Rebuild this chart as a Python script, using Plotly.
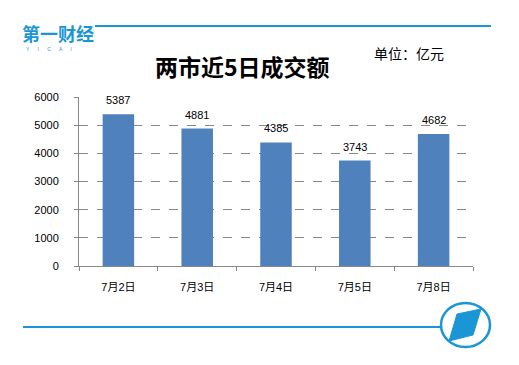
import plotly.graph_objects as go

categories = ["7月2日", "7月3日", "7月4日", "7月5日", "7月8日"]
values = [5387, 4881, 4385, 3743, 4682]
y_ticks = [0, 1000, 2000, 3000, 4000, 5000, 6000]

W, H = 519, 365
L, R, T, B = 79, 473, 97, 266

def px(x):
    return (x - L) / (R - L)

def py(y):
    return (B - y) / (B - T)

BLUE = "#1A96D6"
CJK = "Noto Sans CJK SC"

fig = go.Figure(go.Bar(
    x=categories, y=values,
    marker=dict(color="#4F81BD", line=dict(width=0)),
    cliponaxis=False, hoverinfo="x+y",
))

ann = []
for c, v in zip(categories, values):
    ann.append(dict(x=c, y=v, xref="x", yref="y", text=str(v), showarrow=False,
                    yanchor="middle", yshift=14,
                    font=dict(size=11, color="#000", family="Liberation Sans")))

ann += [
    dict(text="<b>第一财经</b>", xref="paper", yref="paper",
         x=px(21), y=py(33), xanchor="left", yanchor="middle",
         showarrow=False, font=dict(size=18, color=BLUE, family=CJK),
         borderpad=0),
    dict(text="Y      I      C      A      I", xref="paper", yref="paper",
         x=px(25), y=py(49), xanchor="left", yanchor="middle",
         showarrow=False, font=dict(size=5, color=BLUE, family="Liberation Sans"),
         borderpad=0),
    dict(text="<b>两市近5日成交额</b>", xref="paper", yref="paper",
         x=px(242), y=py(66), xanchor="center", yanchor="middle",
         showarrow=False, font=dict(size=23, color="#000", family=CJK)),
    dict(text="单位：亿元", xref="paper", yref="paper",
         x=px(409), y=py(53), xanchor="center", yanchor="middle",
         showarrow=False, font=dict(size=14, color="#000", family=CJK)),
]

fig.update_layout(
    width=W, height=H,
    margin=dict(l=L, r=W - R, t=T, b=H - B, autoexpand=False),
    paper_bgcolor="white", plot_bgcolor="white",
    bargap=0.6, showlegend=False,
    font=dict(family=CJK, color="#000"),
    xaxis=dict(
        automargin=False,
        showline=True, linecolor="#888", linewidth=1,
        ticks="outside", tickson="boundaries", ticklen=4, tickcolor="#888",
        tickfont=dict(size=11, family="Liberation Sans, " + CJK, color="#000"),
        ticklabelstandoff=11,
        showgrid=False,
    ),
    yaxis=dict(
        automargin=False,
        range=[0, 6000], tickvals=y_ticks,
        showline=True, linecolor="#888", linewidth=1,
        ticks="outside", ticklen=4, tickcolor="#888",
        tickfont=dict(size=11, family="Liberation Sans", color="#000"),
        ticklabelstandoff=13,
        showgrid=True, gridcolor="#888", griddash="dash", gridwidth=1,
        zeroline=False,
    ),
    shapes=[
        dict(type="line", xref="paper", yref="paper",
             x0=px(95), x1=px(491), y0=py(26), y1=py(26),
             line=dict(color=BLUE, width=2)),
        dict(type="line", xref="paper", yref="paper",
             x0=px(23), x1=px(441), y0=py(327), y1=py(327),
             line=dict(color=BLUE, width=2)),
        dict(type="circle", xref="paper", yref="paper",
             x0=px(441), x1=px(490), y0=py(303), y1=py(347),
             line=dict(color=BLUE, width=2.5)),
        dict(type="path", xref="paper", yref="paper",
             path=f"M {px(457)} {py(314)} L {px(481)} {py(309)} L {px(473)} {py(335)} L {px(449)} {py(341)} Z",
             fillcolor=BLUE, line=dict(color=BLUE, width=1)),
    ],
    annotations=ann,
)

fig.write_html("out.html", config={"displayModeBar": False},
               post_script="document.body.style.margin='0';")
